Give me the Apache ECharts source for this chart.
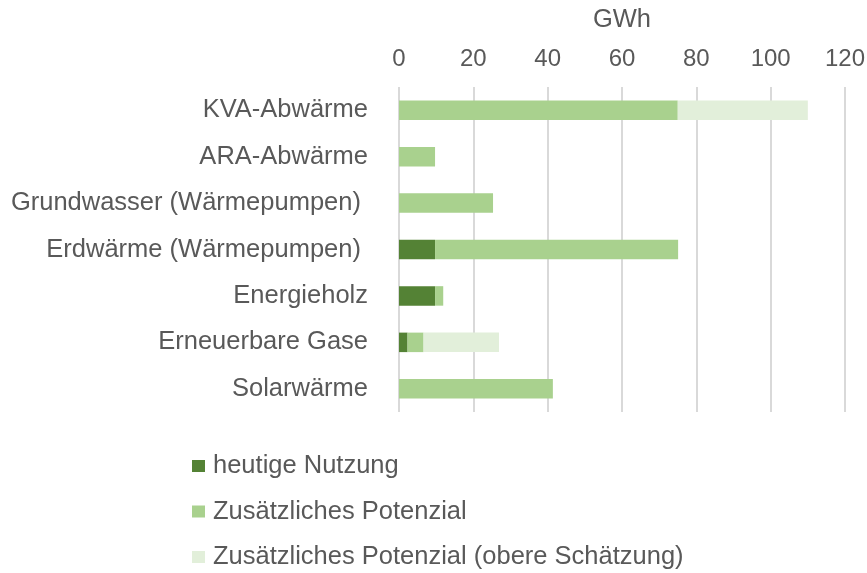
<!DOCTYPE html>
<html>
<head>
<meta charset="utf-8">
<script src="https://cdn.jsdelivr.net/npm/echarts@6/dist/echarts.min.js"></script>
<style>html,body{margin:0;padding:0;background:#fff}#c{width:867px;height:573px}</style>
</head>
<body>
<div id="c"></div>
<script>
const categories = ["KVA-Abwärme", "ARA-Abwärme", "Grundwasser (Wärmepumpen) ", "Erdwärme (Wärmepumpen) ", "Energieholz", "Erneuerbare Gase", "Solarwärme"];
const heutigeNutzung = [0, 0, 0, 9.7, 9.7, 2.3, 0];
const zusaetzlichesPotenzial = [75, 9.7, 25.3, 65.4, 2.2, 4.3, 41.4];
const obereSchaetzung = [35, 0, 0, 0, 0, 20.3, 0];
const seriesNames = ["heutige Nutzung", "Zusätzliches Potenzial", "Zusätzliches Potenzial (obere Schätzung)"];
const xTicks = [0, 20, 40, 60, 80, 100, 120];

const font = "'Liberation Sans', Arial, sans-serif";
const textColor = "#595959";
const chart = echarts.init(document.getElementById('c'), null, {renderer: 'canvas'});
chart.setOption({
  animation: false,
  textStyle: {fontFamily: font},
  grid: {left: 399, right: 22, top: 87, bottom: 161, containLabel: false, outerBoundsMode: 'none'},
  legend: {
    orient: 'vertical', left: 192, top: 453, height: 130, padding: 0,
    itemWidth: 13, itemHeight: 12, itemGap: 19.5,
    icon: 'rect',
    textStyle: {fontFamily: font, fontSize: 25.5, lineHeight: 26, color: textColor, padding: [0,0,0,3]},
    data: seriesNames
  },
  xAxis: {
    type: 'value', position: 'top', min: xTicks[0], max: xTicks[xTicks.length-1], interval: 20,
    name: 'GWh', nameLocation: 'middle', nameGap: 54,
    nameTextStyle: {fontFamily: font, fontSize: 25.5, color: textColor},
    axisLine: {show: false}, axisTick: {show: false},
    axisLabel: {fontFamily: font, fontSize: 24, color: textColor, margin: 16},
    splitLine: {show: true, lineStyle: {color: '#D9D9D9', width: 2}}
  },
  yAxis: {
    type: 'category', data: categories, inverse: true,
    axisLine: {show: false}, axisTick: {show: false},
    axisLabel: {fontFamily: font, fontSize: 25.5, color: textColor, margin: 31}
  },
  series: [
    {name: seriesNames[0], type: 'bar', stack: 's', data: heutigeNutzung, barWidth: '42%', itemStyle: {color: '#548235'}},
    {name: seriesNames[1], type: 'bar', stack: 's', data: zusaetzlichesPotenzial, barWidth: '42%', itemStyle: {color: '#A9D18E'}},
    {name: seriesNames[2], type: 'bar', stack: 's', data: obereSchaetzung, barWidth: '42%', itemStyle: {color: '#E2EFDA'}}
  ]
});
</script>
</body>
</html>
